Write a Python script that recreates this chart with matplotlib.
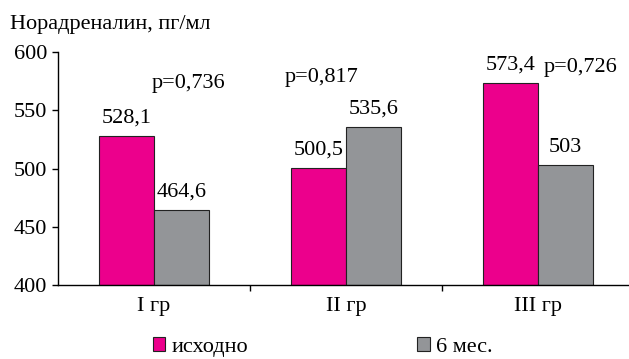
import matplotlib.pyplot as plt
import numpy as np
from matplotlib.patches import Patch

groups = ['I гр', 'II гр', 'III гр']
base = [528.1, 500.5, 573.4]
month6 = [464.6, 535.6, 503]
pvals = ['p=0,736', 'p=0,817', 'p=0,726']
series_names = ['исходно', '6 мес.']

pink = '#EC008C'
grey = '#939598'

plt.rcParams['font.family'] = ['Liberation Serif', 'DejaVu Serif']

fig = plt.figure(figsize=(6.29, 3.59), dpi=100)
ax = fig.add_axes([58 / 629, 74 / 359, 576 / 629, 233 / 359])

x = np.arange(len(groups))
w = 0.287
b1 = ax.bar(x - w / 2, np.array(base) - 400, w, bottom=400, color=pink, edgecolor='#222222', linewidth=0.8)
b2 = ax.bar(x + w / 2, np.array(month6) - 400, w, bottom=400, color=grey, edgecolor='#222222', linewidth=0.8)

fs = 16
for xs, vals in ((x - w / 2, base), (x + w / 2, month6)):
    for xi, v in zip(xs, vals):
        ax.annotate(f'{v:g}'.replace('.', ','), (xi, v), xytext=(0, 6), textcoords='offset points',
                    ha='center', va='bottom', fontsize=fs)

# p-value notes above each pair
p_pos = [(0.18, 573), (-0.125, 578.5), (0.22, 587)]
for xi, (dx, y), t in zip(x, p_pos, pvals):
    ax.text(xi + dx, y, t, ha='center', va='center', fontsize=fs)

ax.set_ylim(400, 600)
ax.set_xlim(-0.5, 2.5)
ax.set_yticks([400, 450, 500, 550, 600])
ax.tick_params(axis='y', labelsize=fs, direction='out', length=4, width=1, pad=4)
ax.set_xticks([0.5, 1.5])
ax.set_xticklabels([])
ax.set_xticks(x, minor=True)
ax.set_xticklabels(groups, minor=True, fontsize=fs)
ax.tick_params(axis='x', which='major', direction='out', length=4, width=1)
ax.tick_params(axis='x', which='minor', length=0, pad=9)
for s in ('top', 'right'):
    ax.spines[s].set_visible(False)
for s in ('left', 'bottom'):
    ax.spines[s].set_linewidth(1)

fig.text(10 / 629, 1 - 25 / 359, 'Норадреналин, пг/мл', fontsize=fs, va='center', ha='left')

handles = [Patch(facecolor=pink, edgecolor='#222222', linewidth=0.8),
           Patch(facecolor=grey, edgecolor='#222222', linewidth=0.8)]
fig.legend(handles, series_names, loc='center', bbox_to_anchor=(323 / 629, 1 - 347 / 359),
           ncol=2, frameon=False, fontsize=fs, handlelength=0.55, handleheight=0.55,
           handletextpad=0.3, columnspacing=7.6)

fig.savefig('out.png', dpi=100)
